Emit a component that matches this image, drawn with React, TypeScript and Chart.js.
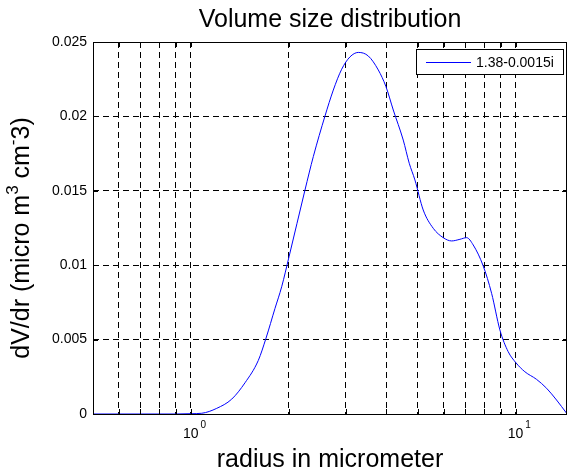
import React, { useEffect, useRef } from 'react';
import { Chart, registerables } from 'chart.js';

Chart.register(...registerables);

const radius = [
  0.5, 0.6, 0.7, 0.8, 0.9, 1.0, 1.081, 1.202, 1.337, 1.469, 1.614, 1.705, 1.817, 1.905, 2.007,
  2.247, 2.384, 2.59, 2.747, 2.915, 3.092, 3.28, 3.52, 3.779, 3.99, 4.202, 4.51, 4.706, 4.899,
  5.196, 5.579, 5.988, 6.356, 6.741, 7.068, 7.406, 7.95, 8.438, 8.949, 9.489, 10.02, 10.68,
  11.6, 12.46, 13.37, 14.36,
];
const dvdr = [
  0, 0, 0, 0, 0, 0.00002, 0.00005, 0.00038, 0.001, 0.0021, 0.0036, 0.0051, 0.0071, 0.00855,
  0.01057, 0.01505, 0.0173, 0.02003, 0.02177, 0.02317, 0.024, 0.0243, 0.02406, 0.02312, 0.022,
  0.02043, 0.01841, 0.01685, 0.01573, 0.01371, 0.01248, 0.01185, 0.01163, 0.01174, 0.01185,
  0.01136, 0.00995, 0.00811, 0.00565, 0.00419, 0.00345, 0.00284, 0.00233, 0.00173, 0.00094,
  0.00005,
];
const yTicks = [0, 0.005, 0.01, 0.015, 0.02, 0.025];
const xGridValues = [0.6, 0.7, 0.8, 0.9, 1, 2, 3, 4, 5, 6, 7, 8, 9, 10];
const xMajorTicks = [1, 10];
const xMajorExponents = ['0', '1'];
const xMin = 0.5;
const xMax = 14.4;
const seriesLabel = '1.38-0.0015i';
const titleText = 'Volume size distribution';
const xTitleText = 'radius in micrometer';
const yTitleParts = ['dV/dr (micro m', '3', ' cm', '-', '3)'];
const yTitleSup = [false, true, false, true, false];

const FONT = '"Liberation Sans", Arial, Helvetica, sans-serif';

const decorPlugin = {
  id: 'matlabDecor',
  afterDraw(chart: any) {
    const { ctx, chartArea } = chart;
    const { left, right, top, bottom } = chartArea;
    const xs = chart.scales.x;
    const ys = chart.scales.y;
    ctx.save();
    // inner ticks
    ctx.strokeStyle = '#000';
    ctx.lineWidth = 1;
    ctx.setLineDash([]);
    ctx.beginPath();
    xGridValues.forEach((v) => {
      const px = Math.round(xs.getPixelForValue(v)) + 0.5;
      ctx.moveTo(px, bottom);
      ctx.lineTo(px, bottom - 5);
      ctx.moveTo(px, top);
      ctx.lineTo(px, top + 5);
    });
    yTicks.forEach((v) => {
      const py = Math.round(ys.getPixelForValue(v)) + 0.5;
      ctx.moveTo(left, py);
      ctx.lineTo(left + 5, py);
      ctx.moveTo(right, py);
      ctx.lineTo(right - 5, py);
    });
    ctx.stroke();
    // box
    ctx.strokeRect(Math.round(left) + 0.5, Math.round(top) + 0.5, Math.round(right - left) - 1, Math.round(bottom - top));

    ctx.fillStyle = '#000';
    // x tick labels
    xMajorTicks.forEach((v, i) => {
      const px = xs.getPixelForValue(v);
      ctx.font = `14px ${FONT}`;
      ctx.textAlign = 'center';
      ctx.textBaseline = 'alphabetic';
      ctx.fillText('10', px, 438);
      const w = ctx.measureText('10').width;
      ctx.font = `10px ${FONT}`;
      ctx.textAlign = 'left';
      ctx.fillText(xMajorExponents[i], px + w / 2 + 2, 428);
    });

    // title
    const cx = (left + right) / 2;
    ctx.font = `25px ${FONT}`;
    ctx.textAlign = 'center';
    ctx.fillText(titleText, cx, 27);
    // x title
    ctx.fillText(xTitleText, cx, 467);

    // y title
    ctx.save();
    ctx.translate(29, (top + bottom) / 2 + 10);
    ctx.rotate(-Math.PI / 2);
    const normalFont = `25px ${FONT}`;
    const supFont = `17px ${FONT}`;
    let total = 0;
    const widths = yTitleParts.map((t, i) => {
      ctx.font = yTitleSup[i] ? supFont : normalFont;
      const w = ctx.measureText(t).width;
      total += w;
      return w;
    });
    let u = -total / 2;
    ctx.textAlign = 'left';
    yTitleParts.forEach((t, i) => {
      ctx.font = yTitleSup[i] ? supFont : normalFont;
      ctx.fillText(t, u, yTitleSup[i] ? -11 : 0);
      u += widths[i];
    });
    ctx.restore();

    // legend
    const lx = 416, ly = 49, lw = 147, lh = 25;
    ctx.fillStyle = '#fff';
    ctx.fillRect(lx, ly, lw, lh);
    ctx.strokeStyle = '#000';
    ctx.strokeRect(lx + 0.5, ly + 0.5, lw, lh);
    ctx.strokeStyle = chart.data.datasets[0].borderColor;
    ctx.beginPath();
    ctx.moveTo(lx + 10, ly + 13.5);
    ctx.lineTo(lx + 55, ly + 13.5);
    ctx.stroke();
    ctx.fillStyle = '#000';
    ctx.font = `14px ${FONT}`;
    ctx.textAlign = 'left';
    ctx.textBaseline = 'middle';
    ctx.fillText(chart.data.datasets[0].label, lx + 60, ly + 14);
    ctx.restore();
  },
};

export default function App() {
  const ref = useRef<HTMLCanvasElement | null>(null);
  useEffect(() => {
    document.body.style.margin = '0';
    const canvas = ref.current;
    if (!canvas) return;
    const chart = new Chart(canvas, {
      type: 'line',
      data: {
        datasets: [
          {
            label: seriesLabel,
            data: radius.map((r, i) => ({ x: r, y: dvdr[i] })),
            borderColor: '#0000ff',
            borderWidth: 1,
            pointRadius: 0,
            fill: false,
            cubicInterpolationMode: 'monotone',
          },
        ],
      },
      options: {
        responsive: false,
        animation: false,
        devicePixelRatio: 1,
        layout: { padding: { top: 42, right: 1, left: 0, bottom: 0 } },
        plugins: {
          legend: { display: false },
          title: { display: false },
          tooltip: { enabled: false },
        },
        scales: {
          x: {
            type: 'logarithmic',
            min: xMin,
            max: xMax,
            afterBuildTicks: (scale: any) => {
              scale.ticks = xGridValues.map((v) => ({ value: v }));
            },
            afterFit: (scale: any) => {
              scale.height = 59;
            },
            ticks: { display: false },
            grid: { color: '#000', lineWidth: 1, drawTicks: false },
            border: { display: false, dash: [6, 4] },
          },
          y: {
            type: 'linear',
            min: 0,
            max: 0.025,
            afterBuildTicks: (scale: any) => {
              scale.ticks = yTicks.map((v) => ({ value: v }));
            },
            afterFit: (scale: any) => {
              scale.width = 93;
            },
            ticks: {
              color: '#000',
              padding: 6,
              font: { family: FONT, size: 14 },
              callback: (v: any) => String(+Number(v).toFixed(3)),
            },
            grid: { color: '#000', lineWidth: 1, drawTicks: false },
            border: { display: false, dash: [6, 4] },
          },
        },
      },
      plugins: [decorPlugin],
    });
    return () => chart.destroy();
  }, []);
  return <canvas ref={ref} width={568} height={473} style={{ display: 'block' }} />;
}
